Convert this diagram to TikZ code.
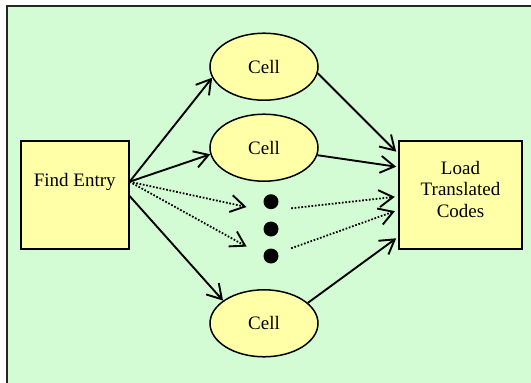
\documentclass[tikz,border=0pt]{standalone}
\usepackage{fontspec}
\setmainfont{Liberation Serif}
\usetikzlibrary{arrows.meta,shapes.geometric,calc}
\definecolor{bggreen}{RGB}{212,252,212}
\definecolor{boxyellow}{RGB}{255,255,168}
\begin{document}
\begin{tikzpicture}[x=1pt,y=-1pt,
  lbl/.style={font=\fontsize{19}{21.5}\selectfont},
  box/.style={draw=black, fill=boxyellow, line width=1.6pt, rectangle, inner sep=0pt},
  cell/.style={draw=black, fill=boxyellow, line width=1.5pt, ellipse, minimum width=108pt, minimum height=67pt, inner sep=0pt, lbl},
  dot/.style={circle, fill=black, minimum size=15pt, inner sep=0pt},
  arr/.style={line width=1.9pt, -{Straight Barb[length=14pt,width=17pt,line width=1.9pt]}},
  darr/.style={line width=1.8pt, dash pattern=on 1.7pt off 1.7pt, -{Straight Barb[length=14pt,width=17pt,line width=1.9pt,sep]}}]
\useasboundingbox (0,0) rectangle (531,383);
\clip (0,0) rectangle (531,383);
\draw[line width=2.2pt, draw=black!85, fill=bggreen] (7,6) rectangle (545,395);
% nodes
\node[box, minimum width=108pt, minimum height=108pt,
      label={[lbl, anchor=base, yshift=13.3pt]center:Find Entry}] (fe) at (74.8,195) {};
\node[box, minimum width=123pt, minimum height=108pt,
      label={[lbl, anchor=center, align=center, yshift=5.9pt]center:Load\\Translated\\Codes}] (lt) at (460.5,195) {};
\node[cell] (c1) at (264,66.7) {Cell};
\node[cell] (c2) at (264,147.7) {Cell};
\node[cell] (c3) at (264,323.3) {Cell};
\node[dot] (d1) at (271,201.7) {};
\node[dot] (d2) at (271,229) {};
\node[dot] (d3) at (271,256) {};
% start points on Find Entry
\coordinate (o1) at ($(fe.east)+(0,-13.3)$);
\coordinate (o2) at ($(fe.east)+(0,1)$);
% connectors
\draw[arr] (o1) -- (c1.192);
\draw[arr] (o1) -- (c2.187);
\draw[arr] (o2) -- (c3.151);
\draw[darr] (o1) -- ($(d1.center)+(-23.1,5.6)$);
\draw[darr] (o1) -- ($(d3.center)+(-23.1,-8.7)$);
\draw[arr] (c1.353) -- ($(lt.west)+(-2,-43.3)$);
\draw[arr] (c2.352) -- ($(lt.west)+(-2,-28.3)$);
\draw[darr] ($(d1.center)+(20.2,6.6)$) -- ($(lt.west)+(-2,1.7)$);
\draw[darr] ($(d3.center)+(20.2,-7.7)$) -- ($(lt.west)+(-2,15.7)$);
\draw[arr] (c3.25) -- ($(lt.west)+(-2,43.3)$);
\end{tikzpicture}
\end{document}
